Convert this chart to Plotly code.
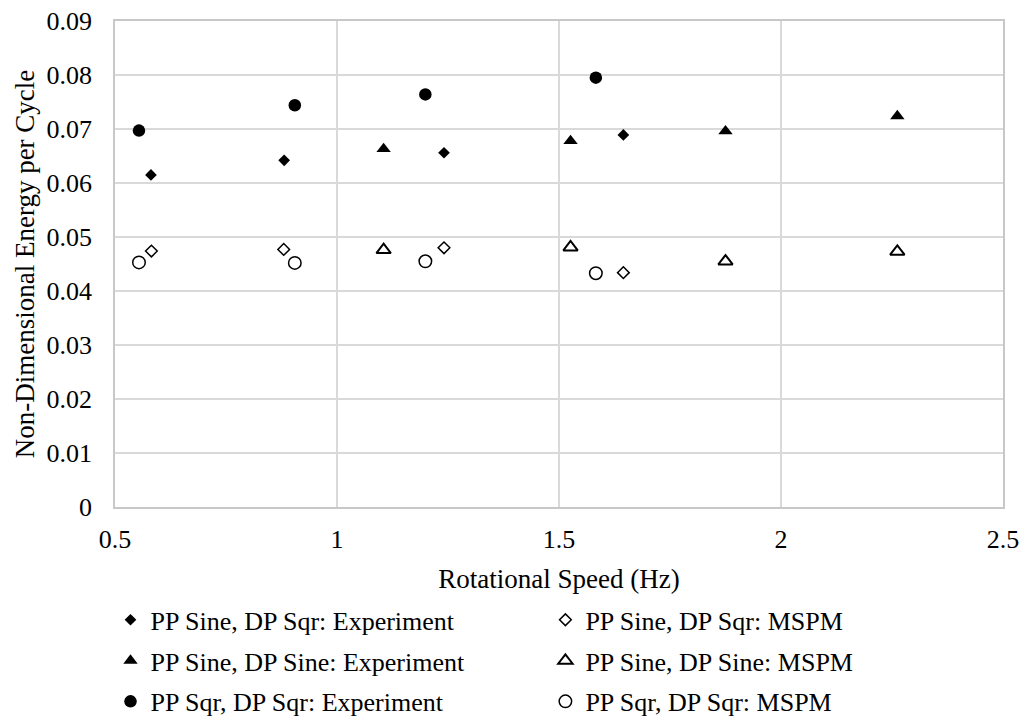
import plotly.graph_objects as go

# Data
sine_sqr_exp_x = [0.581, 0.881, 1.241, 1.645]
sine_sqr_exp_y = [0.0615, 0.0642, 0.0656, 0.0689]
sine_sqr_mspm_x = [0.582, 0.880, 1.241, 1.645]
sine_sqr_mspm_y = [0.0474, 0.0477, 0.0480, 0.0434]

sine_sine_exp_x = [1.105, 1.526, 1.875, 2.262]
sine_sine_exp_y = [0.0663, 0.0678, 0.0696, 0.0724]
sine_sine_mspm_x = [1.105, 1.526, 1.875, 2.262]
sine_sine_mspm_y = [0.0476, 0.0481, 0.0455, 0.0473]

sqr_sqr_exp_x = [0.554, 0.905, 1.199, 1.583]
sqr_sqr_exp_y = [0.0697, 0.0744, 0.0764, 0.0795]
sqr_sqr_mspm_x = [0.554, 0.905, 1.199, 1.583]
sqr_sqr_mspm_y = [0.0453, 0.0452, 0.0455, 0.0433]

y_tickvals = [0, 0.01, 0.02, 0.03, 0.04, 0.05, 0.06, 0.07, 0.08, 0.09]
y_ticktext = ["0", "0.01", "0.02", "0.03", "0.04", "0.05", "0.06", "0.07", "0.08", "0.09"]
x_tickvals = [0.5, 1, 1.5, 2, 2.5]
x_ticktext = ["0.5", "1", "1.5", "2", "2.5"]

FONT = "Liberation Serif, Times New Roman, serif"
W, H = 1023, 721
PL, PR, PT, PB = 114.5, 1002.7, 21.0, 506.7  # plot area in pixels


def px_x(px):
    return (px - PL) / (PR - PL)


def px_y(py):
    return (PB - py) / (PB - PT)


fig = go.Figure()


def add(x, y, name, symbol, size, legend, group, lw=0):
    fig.add_trace(go.Scatter(
        x=x, y=y, mode="markers", name=name,
        legend=legend, legendgroup=group,
        marker=dict(symbol=symbol, size=size, color="black",
                    line=dict(color="black", width=lw)),
    ))


add(sine_sqr_exp_x, sine_sqr_exp_y, "PP Sine, DP Sqr: Experiment", "diamond", 9, "legend", "a")
add(sine_sine_exp_x, sine_sine_exp_y, "PP Sine, DP Sine: Experiment", "triangle-up", 12.5, "legend", "b")
add(sqr_sqr_exp_x, sqr_sqr_exp_y, "PP Sqr, DP Sqr: Experiment", "circle", 12.5, "legend", "c")
add(sine_sqr_mspm_x, sine_sqr_mspm_y, "PP Sine, DP Sqr: MSPM", "diamond-open", 9, "legend2", "d", 1.5)
add(sine_sine_mspm_x, sine_sine_mspm_y, "PP Sine, DP Sine: MSPM", "triangle-up-open", 12.5, "legend2", "e", 2)
add(sqr_sqr_mspm_x, sqr_sqr_mspm_y, "PP Sqr, DP Sqr: MSPM", "circle-open", 12.5, "legend2", "f", 1.5)

legend_common = dict(
    xref="paper", yref="paper",
    xanchor="left", yanchor="top",
    orientation="v", traceorder="grouped", tracegroupgap=4,
    font=dict(family=FONT, size=26, color="black"),
    bgcolor="rgba(0,0,0,0)", itemsizing="trace",
)

fig.update_layout(
    width=W, height=H,
    margin=dict(l=PL, r=W - PR, t=PT, b=H - PB, autoexpand=False),
    paper_bgcolor="white", plot_bgcolor="white",
    font=dict(family=FONT, size=26, color="black"),
    showlegend=True,
    legend=dict(x=px_x(110), y=px_y(596), **legend_common),
    legend2=dict(x=px_x(545), y=px_y(596), **legend_common),
    xaxis=dict(
        range=[0.5, 2.5], tickvals=x_tickvals, ticktext=x_ticktext,
        showgrid=True, gridcolor="#d9d9d9", gridwidth=1.5,
        showline=True, linecolor="#c8c8c8", linewidth=1.5, mirror=True,
        zeroline=False, ticks="", ticklabelstandoff=8,
        tickfont=dict(family=FONT, size=26, color="black"),
        title=dict(text="Rotational Speed (Hz)", standoff=16,
                   font=dict(family=FONT, size=27, color="black")),
        automargin=False,
    ),
    yaxis=dict(
        range=[0, 0.09], tickvals=y_tickvals, ticktext=y_ticktext,
        showgrid=True, gridcolor="#d9d9d9", gridwidth=1.5,
        showline=True, linecolor="#c8c8c8", linewidth=1.5, mirror=True,
        zeroline=False, ticks="", ticklabelstandoff=16,
        tickfont=dict(family=FONT, size=26, color="black"),
        title=dict(text="Non-Dimensional Energy per Cycle", standoff=4,
                   font=dict(family=FONT, size=27, color="black")),
        automargin=False,
    ),
)

fig.write_html(
    "out.html",
    config={"displayModeBar": False},
    post_script="document.body.style.margin='0px';document.body.style.overflow='hidden';",
)
